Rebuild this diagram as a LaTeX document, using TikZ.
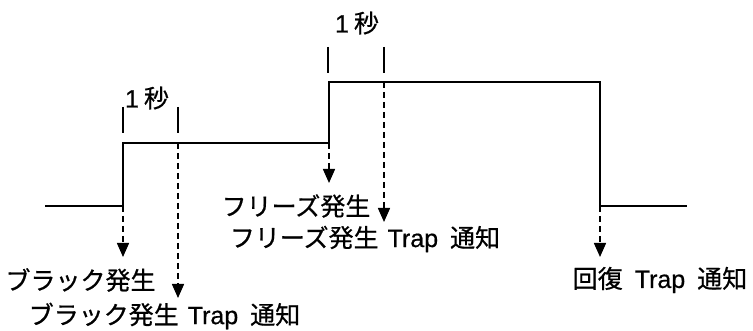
\documentclass[tikz,border=0pt]{standalone}
\usepackage{fontspec}
\setmainfont[FakeBold=0.6]{Liberation Sans}
\newfontfamily\cjk[FakeBold=0.6]{Noto Sans CJK JP}
\usetikzlibrary{arrows.meta}
\begin{document}
\begin{tikzpicture}[x=1pt,y=-1pt,
  signal/.style={line width=1.7pt},
  tick/.style={line width=1.4pt},
  notify/.style={line width=1.5pt,dash pattern=on 6pt off 4pt,-{Triangle[width=12pt,length=14pt]}},
  label/.style={font=\fontsize{25}{28}\selectfont,inner sep=0pt}]
\useasboundingbox (0,0) rectangle (753,331);
% signal corner points
\coordinate (s0) at (45,206);
\coordinate (s1) at (123,206);
\coordinate (s2) at (123,143);
\coordinate (s3) at (329,143);
\coordinate (s4) at (329,82);
\coordinate (s5) at (600,82);
\coordinate (s6) at (600,206);
\coordinate (s7) at (687,206);
\draw[signal] (s0) -- (s1) -- (s2) -- (s3) -- (s4) -- (s5) -- (s6) -- (s7);
% ticks
\coordinate (t1a) at (123,107); \coordinate (t1b) at (123,133);
\coordinate (t2a) at (178,107); \coordinate (t2b) at (178,133);
\coordinate (t3a) at (328,47);  \coordinate (t3b) at (328,73);
\coordinate (t4a) at (384,47);  \coordinate (t4b) at (384,73);
\draw[tick] (t1a) -- (t1b);
\draw[tick] (t2a) -- (t2b);
\draw[tick] (t3a) -- (t3b);
\draw[tick] (t4a) -- (t4b);
% labels
\node[label] (sec1) at (147,98) {1\hspace{5pt}{\cjk 秒}};
\node[label] (sec2) at (357,23) {1\hspace{5pt}{\cjk 秒}};
\node[label] (black) at (80.5,280) {\cjk ブラック発生};
\node[label] (blacktrap) at (164.5,316) {{\cjk ブラック発生}\hspace{9pt}Trap\hspace{12pt}{\cjk 通知}};
\node[label] (freeze) at (296,206) {\cjk フリーズ発生};
\node[label] (freezetrap) at (365,239) {{\cjk フリーズ発生}\hspace{9pt}Trap\hspace{12pt}{\cjk 通知}};
\node[label] (recover) at (660,280) {{\cjk 回復}\hspace{12pt}Trap\hspace{12pt}{\cjk 通知}};
% arrow tips
\coordinate (e1) at (123,257);
\coordinate (e2) at (178,298);
\coordinate (e3) at (329,183);
\coordinate (e4) at (384,222);
\coordinate (e5) at (600,257);
\coordinate (b2) at (178,143);
\coordinate (b4) at (384,82);
\draw[notify] (s1) -- (e1);
\draw[notify] (b2) -- (e2);
\draw[notify] (s3) -- (e3);
\draw[notify] (b4) -- (e4);
\draw[notify] (s6) -- (e5);
\end{tikzpicture}
\end{document}
